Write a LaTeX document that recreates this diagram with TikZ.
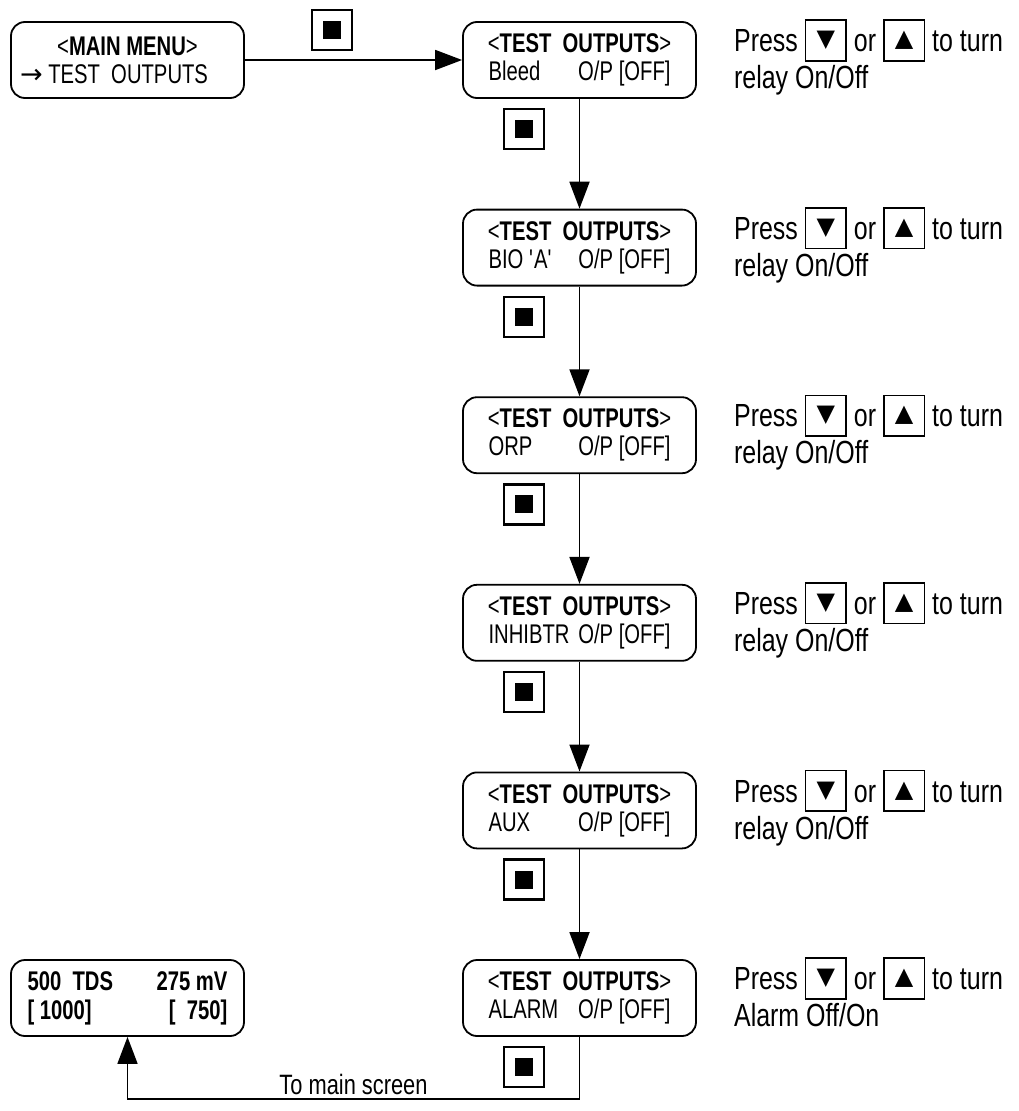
\documentclass[tikz,border=0pt]{standalone}
\usepackage{fontspec}
\setmainfont{Liberation Sans}
\newfontfamily\lcdfont{Liberation Sans}[FakeStretch=0.75]
\newfontfamily\hintfont{Liberation Sans}[FakeStretch=0.78]
\newfontfamily\symfont{DejaVu Sans}
\usetikzlibrary{positioning, arrows.meta, calc}

% framed key as printed in the hint text
\newcommand{\keycap}[1]{\raisebox{5pt}{\setlength{\fboxsep}{0pt}\setlength{\fboxrule}{1.6pt}%
    \fbox{\parbox[c][39pt][c]{39pt}{\centering\fontsize{24}{24}\symfont #1}}}}

\begin{document}
\begin{tikzpicture}[
        x=1pt, y=-1pt,
        lcd/.style={
            draw,
            line width=1.8pt,
            rounded corners=14pt,
            minimum width=233pt,
            minimum height=76pt,
            inner sep=0pt,
            align=center,
            font=\lcdfont\fontsize{27}{28}\selectfont
        },
        enterkey/.style={
            draw,
            line width=2.4pt,
            minimum size=40pt,
            inner sep=0pt
        },
        hint/.style={
            anchor=north west,
            align=left,
            inner sep=0pt,
            font=\hintfont\fontsize{32}{37}\selectfont
        },
        arr/.style={-{Triangle[length=27pt, width=20pt]}, line width=1.8pt},
        node distance=109.8pt
    ]

    \useasboundingbox (0,0) rectangle (1019,1111);

    \node[lcd] (mainmenu) at (127.5,60) {
        <\textbf{MAIN\ MENU}>\\
        \makebox[215pt][l]{{\symfont →} TEST\ \ OUTPUTS}
    };

    \node[lcd] (bleed) at (579.5,60) {
        <\textbf{TEST\ \ OUTPUTS}>\\
        \makebox[182pt]{Bleed\hfill O/P [OFF]}
    };

    \node[lcd, below=of bleed] (bio) {
        <\textbf{TEST\ \ OUTPUTS}>\\
        \makebox[182pt]{BIO \textquotesingle A\textquotesingle\hfill O/P [OFF]}
    };

    \node[lcd, below=of bio] (orp) {
        <\textbf{TEST\ \ OUTPUTS}>\\
        \makebox[182pt]{ORP\hfill O/P [OFF]}
    };

    \node[lcd, below=of orp] (inhibtr) {
        <\textbf{TEST\ \ OUTPUTS}>\\
        \makebox[182pt]{INHIBTR\hfill O/P [OFF]}
    };

    \node[lcd, below=of inhibtr] (aux) {
        <\textbf{TEST\ \ OUTPUTS}>\\
        \makebox[182pt]{AUX\hfill O/P [OFF]}
    };

    \node[lcd, below=of aux] (alarm) {
        <\textbf{TEST\ \ OUTPUTS}>\\
        \makebox[182pt]{ALARM\hfill O/P [OFF]}
    };

    \node[lcd, font=\lcdfont\bfseries\fontsize{27}{29}\selectfont] (status) at (mainmenu |- alarm) {
        \makebox[200pt]{500\ \ TDS\hfill 275 mV}\\
        \makebox[200pt]{[ 1000]\hfill[\ \ 750]}
    };

    % enter keys
    \node[enterkey] (menukey) at (332,30) {\rule{18pt}{18pt}};
    \node[enterkey, below=9pt of bleed.south, xshift=-55.5pt] (bleedkey) {\rule{18pt}{18pt}};
    \node[enterkey, below=9pt of bio.south, xshift=-55.5pt] (biokey) {\rule{18pt}{18pt}};
    \node[enterkey, below=9pt of orp.south, xshift=-55.5pt] (orpkey) {\rule{18pt}{18pt}};
    \node[enterkey, below=9pt of inhibtr.south, xshift=-55.5pt] (inhibtrkey) {\rule{18pt}{18pt}};
    \node[enterkey, below=9pt of aux.south, xshift=-55.5pt] (auxkey) {\rule{18pt}{18pt}};
    \node[enterkey, below=9pt of alarm.south, xshift=-55.5pt] (alarmkey) {\rule{18pt}{18pt}};

    % hints
    \node[hint] (bleedhint) at ([xshift=37pt, yshift=2pt]bleed.north east)
        {Press \keycap{▼} or \keycap{▲} to turn\\relay On/Off};
    \node[hint] (biohint) at ([xshift=37pt, yshift=2pt]bio.north east)
        {Press \keycap{▼} or \keycap{▲} to turn\\relay On/Off};
    \node[hint] (orphint) at ([xshift=37pt, yshift=2pt]orp.north east)
        {Press \keycap{▼} or \keycap{▲} to turn\\relay On/Off};
    \node[hint] (inhibtrhint) at ([xshift=37pt, yshift=2pt]inhibtr.north east)
        {Press \keycap{▼} or \keycap{▲} to turn\\relay On/Off};
    \node[hint] (auxhint) at ([xshift=37pt, yshift=2pt]aux.north east)
        {Press \keycap{▼} or \keycap{▲} to turn\\relay On/Off};
    \node[hint] (alarmhint) at ([xshift=37pt, yshift=2pt]alarm.north east)
        {Press \keycap{▼} or \keycap{▲} to turn\\Alarm Off/On};

    \draw[arr] (mainmenu) -- (bleed);
    \draw[arr] (bleed)    -- (bio);
    \draw[arr] (bio)      -- (orp);
    \draw[arr] (orp)      -- (inhibtr);
    \draw[arr] (inhibtr)  -- (aux);
    \draw[arr] (aux)      -- (alarm);
    \draw[arr] (alarm.south) -- ([yshift=-62pt]alarm.south)
        -| node[pos=0.25, above, inner sep=3pt, font=\hintfont\fontsize{28}{30}\selectfont] {To main screen}
        (status.south);

    \end{tikzpicture}
\end{document}
